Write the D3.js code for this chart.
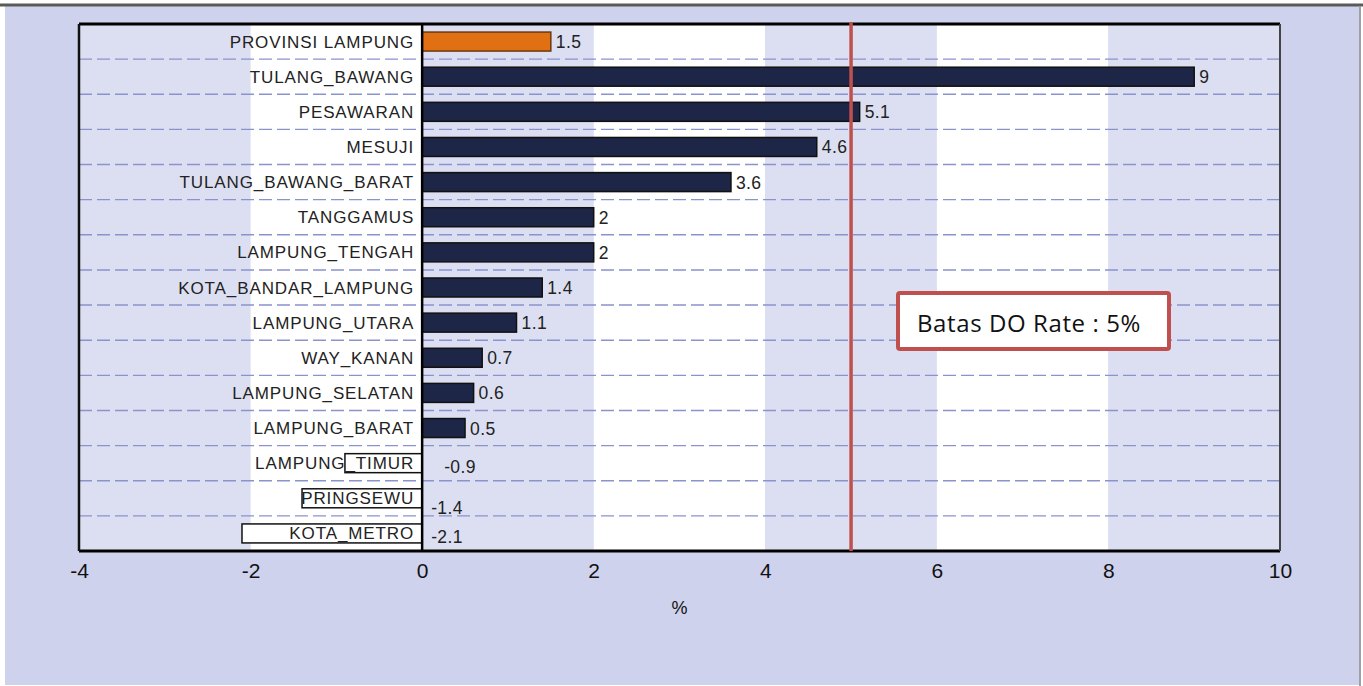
<!DOCTYPE html>
<html lang="en">
  <head>
    <meta charset="UTF-8" />
    <title>DO Rate Lampung</title>
    <script src="https://d3js.org/d3.v7.min.js"></script>
    <style>
      body { margin: 0; background: #fff; }
      svg { font-family: "Liberation Sans", Arial, sans-serif; }
    </style>
  </head>
  <body>
    <div id="chart"></div>
    <script>
      // data
      const categories = [
        "PROVINSI LAMPUNG", "TULANG_BAWANG", "PESAWARAN", "MESUJI",
        "TULANG_BAWANG_BARAT", "TANGGAMUS", "LAMPUNG_TENGAH",
        "KOTA_BANDAR_LAMPUNG", "LAMPUNG_UTARA", "WAY_KANAN",
        "LAMPUNG_SELATAN", "LAMPUNG_BARAT", "LAMPUNG_TIMUR",
        "PRINGSEWU", "KOTA_METRO"
      ];
      const values = [1.5, 9, 5.1, 4.6, 3.6, 2, 2, 1.4, 1.1, 0.7, 0.6, 0.5, -0.9, -1.4, -2.1];
      const xTicks = [-4, -2, 0, 2, 4, 6, 8, 10];
      const limit = 5;
      const limitLabel = "Batas DO Rate : 5%";

      const W = 1363, H = 686;
      const plotL = 79, plotR = 1280, plotT = 24, plotB = 551;

      const svg = d3.select("#chart").append("svg")
        .attr("width", W).attr("height", H);

      // frame of the slide
      svg.append("rect").attr("x", 5).attr("y", 6).attr("width", 1355).attr("height", 679)
        .attr("fill", "#cfd2ec");
      svg.append("line").attr("x1", 0).attr("x2", W).attr("y1", 5).attr("y2", 5)
        .attr("stroke", "#5a5a5a").attr("stroke-width", 3);
      svg.append("line").attr("x1", 1360).attr("x2", 1360).attr("y1", 6).attr("y2", 686)
        .attr("stroke", "#a0a0a8").attr("stroke-width", 2);

      const x = d3.scaleLinear().domain([-4, 10]).range([plotL, plotR]);
      const y = d3.scaleBand().domain(categories).range([plotT, plotB]);

      // alternating bands
      const bands = d3.pairs(xTicks);
      svg.append("g").selectAll("rect").data(bands).join("rect")
        .attr("x", d => x(d[0]))
        .attr("width", d => x(d[1]) - x(d[0]))
        .attr("y", plotT).attr("height", plotB - plotT)
        .attr("fill", (d, i) => i % 2 === 0 ? "#dcdff1" : "#ffffff");

      // dashed separators between rows
      svg.append("g").selectAll("line").data(categories.slice(1)).join("line")
        .attr("x1", plotL).attr("x2", plotR)
        .attr("y1", d => y(d)).attr("y2", d => y(d))
        .attr("stroke", "#8a93cc").attr("stroke-width", 1.4)
        .attr("stroke-dasharray", "13,5");

      const barH = 19;
      const rows = categories.map((c, i) => ({ name: c, value: values[i], i }));

      // bars
      svg.append("g").selectAll("rect").data(rows).join("rect")
        .attr("x", d => x(Math.min(0, d.value)))
        .attr("width", d => Math.abs(x(d.value) - x(0)))
        .attr("y", d => y(d.name) + (y.bandwidth() - barH) / 2)
        .attr("height", barH)
        .attr("fill", d => d.i === 0 ? "#e07012" : d.value < 0 ? "#ffffff" : "#1e2647")
        .attr("stroke", d => d.i === 0 ? "#6b3a10" : "#111")
        .attr("stroke-width", 1.5);

      // category labels
      svg.append("g").selectAll("text").data(rows).join("text")
        .attr("x", x(0) - 8)
        .attr("y", d => y(d.name) + y.bandwidth() / 2 + 6)
        .attr("text-anchor", "end")
        .attr("font-size", 17)
        .attr("letter-spacing", 0.9)
        .attr("fill", "#222")
        .text(d => d.name);

      // value labels
      svg.append("g").selectAll("text").data(rows).join("text")
        .attr("x", d => d.value < 0 ? x(0) + 9 + (d.value > -1 ? 13 : 0) : x(d.value) + 5)
        .attr("y", d => y(d.name) + y.bandwidth() / 2 + 6.5 + (d.value < 0 ? (d.value < -1 && d.value > -2 ? 9 : 3) : 0))
        .attr("font-size", 17.5)
        .attr("letter-spacing", 0.4)
        .attr("fill", "#222")
        .text(d => d.value);

      // zero line
      svg.append("line").attr("x1", x(0)).attr("x2", x(0)).attr("y1", plotT).attr("y2", plotB)
        .attr("stroke", "#000").attr("stroke-width", 2.5);

      // frame of the plot
      svg.append("line").attr("x1", plotL).attr("x2", plotR).attr("y1", plotT).attr("y2", plotT)
        .attr("stroke", "#000").attr("stroke-width", 3);
      svg.append("line").attr("x1", plotL).attr("x2", plotR).attr("y1", plotB).attr("y2", plotB)
        .attr("stroke", "#000").attr("stroke-width", 3);
      svg.append("line").attr("x1", plotL).attr("x2", plotL).attr("y1", plotT).attr("y2", plotB)
        .attr("stroke", "#111").attr("stroke-width", 2.5);
      svg.append("line").attr("x1", plotR).attr("x2", plotR).attr("y1", plotT).attr("y2", plotB)
        .attr("stroke", "#444").attr("stroke-width", 2);

      // x axis
      const xAxis = svg.append("g")
        .attr("transform", `translate(0,${plotB})`)
        .call(d3.axisBottom(x).tickValues(xTicks).tickSize(0).tickPadding(12)
          .tickFormat(d => String(d)));
      xAxis.select(".domain").remove();
      xAxis.selectAll("text")
        .attr("fill", "#111")
        .style("font-size", "21px")
        .style("font-family", "'Liberation Sans', Arial, sans-serif");

      svg.append("text").attr("x", (plotL + plotR) / 2).attr("y", 614)
        .attr("text-anchor", "middle").attr("font-size", 18).attr("fill", "#111")
        .text("%");

      // limit line
      svg.append("line").attr("x1", x(limit)).attr("x2", x(limit))
        .attr("y1", plotT - 2).attr("y2", plotB)
        .attr("stroke", "#c0504d").attr("stroke-width", 3.5);

      // annotation box
      svg.append("rect").attr("x", 898).attr("y", 293).attr("width", 271).attr("height", 56)
        .attr("rx", 2)
        .attr("fill", "#fff").attr("stroke", "#c0504d").attr("stroke-width", 4);
      svg.append("text").attr("x", 917).attr("y", 332)
        .style("font-family", "'Open Sans', sans-serif")
        .attr("font-size", 24).attr("letter-spacing", 0.6).attr("fill", "#111")
        .text(limitLabel);
    </script>
  </body>
</html>
